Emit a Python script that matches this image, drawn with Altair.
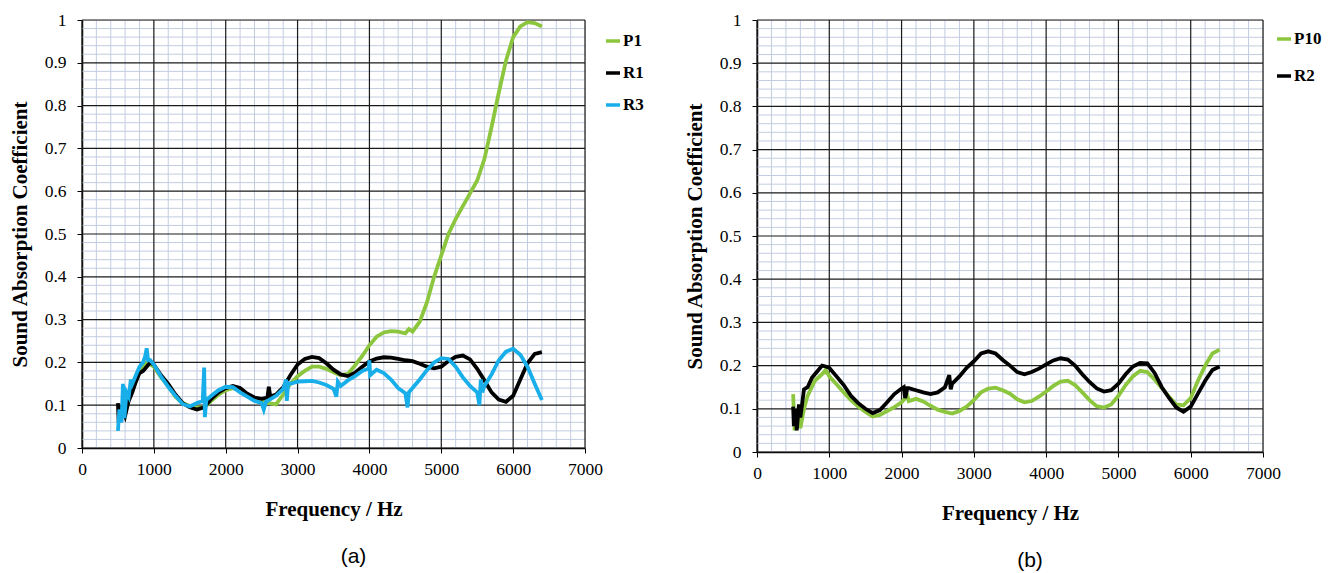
import altair as alt
import pandas as pd

# ---------------- data ----------------
# Panel (a)
P1_f = [500, 600, 700, 800, 900, 1000, 1100, 1200, 1300, 1400, 1500, 1600, 1700, 1800, 1900,
        2000, 2100, 2200, 2300, 2400, 2500, 2600, 2700, 2800, 2900, 3000, 3100, 3200, 3300,
        3400, 3500, 3600, 3700, 3800, 3900, 4000, 4100, 4200, 4300, 4400, 4500, 4550, 4600,
        4700, 4800, 4900, 5000, 5100, 5200, 5300, 5400, 5500, 5600, 5700, 5800, 5900, 6000,
        6100, 6200, 6300, 6400]
P1_v = [0.09, 0.09, 0.14, 0.18, 0.20, 0.19, 0.165, 0.145, 0.12, 0.105, 0.098, 0.095, 0.095,
        0.11, 0.125, 0.135, 0.14, 0.135, 0.125, 0.115, 0.11, 0.105, 0.102, 0.125, 0.15, 0.168,
        0.18, 0.19, 0.19, 0.185, 0.177, 0.17, 0.173, 0.193, 0.215, 0.24, 0.26, 0.27, 0.273,
        0.272, 0.268, 0.278, 0.272, 0.295, 0.34, 0.40, 0.45, 0.50, 0.535, 0.565, 0.595, 0.625,
        0.675, 0.75, 0.83, 0.905, 0.96, 0.985, 0.995, 0.993, 0.985]

R1_f = [500, 510, 550, 600, 650, 700, 750, 800, 850, 900, 950, 1000, 1100, 1200, 1300, 1400,
        1500, 1600, 1700, 1800, 1900, 2000, 2100, 2200, 2300, 2400, 2500, 2580, 2600, 2620,
        2700, 2800, 2900, 3000, 3100, 3200, 3300, 3400, 3500, 3600, 3700, 3800, 3900, 4000,
        4100, 4200, 4300, 4400, 4500, 4600, 4700, 4800, 4900, 5000, 5100, 5200, 5300, 5400,
        5500, 5600, 5700, 5800, 5900, 6000, 6100, 6200, 6300, 6400]
R1_v = [0.105, 0.06, 0.10, 0.075, 0.11, 0.13, 0.155, 0.175, 0.18, 0.19, 0.20, 0.195, 0.17,
        0.15, 0.125, 0.105, 0.095, 0.09, 0.095, 0.115, 0.13, 0.14, 0.145, 0.14, 0.127, 0.118,
        0.115, 0.118, 0.143, 0.12, 0.125, 0.142, 0.17, 0.195, 0.208, 0.213, 0.21, 0.198, 0.183,
        0.172, 0.168, 0.176, 0.19, 0.202, 0.209, 0.212, 0.211, 0.208, 0.205, 0.203, 0.197,
        0.19, 0.186, 0.19, 0.203, 0.213, 0.216, 0.207, 0.185, 0.158, 0.13, 0.113, 0.108, 0.122,
        0.16, 0.198, 0.22, 0.224]

R3_f = [500, 520, 550, 570, 590, 620, 650, 680, 700, 750, 800, 850, 880, 900, 920, 950, 1000,
        1100, 1200, 1300, 1400, 1500, 1600, 1680, 1700, 1710, 1730, 1800, 1900, 2000, 2100,
        2200, 2300, 2400, 2500, 2530, 2560, 2600, 2700, 2800, 2840, 2850, 2870, 2900, 3000,
        3100, 3200, 3300, 3400, 3500, 3540, 3560, 3600, 3700, 3800, 3900, 3990, 4000, 4010,
        4100, 4200, 4300, 4400, 4500, 4530, 4550, 4600, 4700, 4800, 4900, 5000, 5100, 5200,
        5300, 5400, 5500, 5530, 5550, 5570, 5600, 5700, 5800, 5900, 6000, 6100, 6200, 6300,
        6400]
R3_v = [0.04, 0.09, 0.06, 0.15, 0.07, 0.13, 0.12, 0.16, 0.15, 0.17, 0.19, 0.20, 0.215, 0.233,
        0.205, 0.205, 0.195, 0.167, 0.143, 0.122, 0.103, 0.097, 0.105, 0.11, 0.188, 0.072,
        0.112, 0.122, 0.135, 0.143, 0.142, 0.13, 0.12, 0.11, 0.105, 0.09, 0.108, 0.112, 0.122,
        0.138, 0.16, 0.11, 0.152, 0.15, 0.155, 0.156, 0.157, 0.153, 0.147, 0.138, 0.12, 0.155,
        0.145, 0.158, 0.168, 0.18, 0.186, 0.205, 0.17, 0.183, 0.175, 0.16, 0.14, 0.128, 0.095,
        0.13, 0.14, 0.16, 0.182, 0.20, 0.21, 0.208, 0.19, 0.165, 0.145, 0.13, 0.10, 0.16, 0.13,
        0.145, 0.172, 0.205, 0.225, 0.232, 0.218, 0.19, 0.15, 0.112]

# Panel (b)
P10_f = [500, 520, 560, 600, 650, 700, 800, 900, 950, 1000, 1100, 1200, 1300, 1400, 1500, 1600,
         1700, 1800, 1900, 2000, 2080, 2100, 2200, 2300, 2400, 2500, 2600, 2700, 2800, 2900,
         3000, 3100, 3200, 3300, 3400, 3500, 3600, 3700, 3800, 3900, 4000, 4100, 4200, 4300,
         4400, 4500, 4600, 4700, 4800, 4900, 5000, 5100, 5200, 5300, 5400, 5500, 5600, 5700,
         5800, 5900, 6000, 6100, 6200, 6300, 6400]
P10_v = [0.134, 0.05, 0.09, 0.055, 0.10, 0.13, 0.165, 0.18, 0.19, 0.175, 0.157, 0.138, 0.12,
         0.105, 0.093, 0.082, 0.086, 0.095, 0.104, 0.115, 0.13, 0.118, 0.123, 0.117, 0.107,
         0.098, 0.093, 0.089, 0.095, 0.105, 0.12, 0.138, 0.147, 0.149, 0.143, 0.135, 0.122,
         0.115, 0.118, 0.128, 0.14, 0.153, 0.163, 0.165, 0.155, 0.138, 0.12, 0.106, 0.103,
         0.11, 0.13, 0.155, 0.175, 0.188, 0.185, 0.168, 0.148, 0.128, 0.11, 0.108, 0.125,
         0.165, 0.20, 0.228, 0.237]

R2_f = [500, 510, 530, 550, 580, 600, 650, 700, 760, 800, 850, 900, 950, 1000, 1100, 1200,
        1300, 1400, 1500, 1600, 1700, 1800, 1900, 2000, 2030, 2050, 2080, 2100, 2200, 2300,
        2400, 2500, 2600, 2660, 2680, 2700, 2800, 2900, 3000, 3100, 3200, 3300, 3400, 3500,
        3600, 3700, 3800, 3900, 4000, 4100, 4200, 4300, 4400, 4500, 4600, 4700, 4800, 4900,
        5000, 5100, 5200, 5300, 5400, 5500, 5600, 5700, 5800, 5900, 6000, 6100, 6200, 6300,
        6400]
R2_v = [0.105, 0.06, 0.10, 0.05, 0.11, 0.08, 0.145, 0.15, 0.172, 0.18, 0.19, 0.20, 0.198,
        0.195, 0.175, 0.155, 0.13, 0.113, 0.10, 0.09, 0.097, 0.115, 0.134, 0.147, 0.15, 0.125,
        0.148, 0.148, 0.143, 0.138, 0.134, 0.138, 0.15, 0.178, 0.145, 0.158, 0.175, 0.195,
        0.21, 0.228, 0.233, 0.228, 0.213, 0.20, 0.185, 0.18, 0.185, 0.193, 0.203, 0.212, 0.217,
        0.214, 0.20, 0.18, 0.162, 0.147, 0.14, 0.143, 0.158, 0.18, 0.198, 0.206, 0.205, 0.183,
        0.15, 0.125, 0.103, 0.093, 0.105, 0.135, 0.165, 0.19, 0.198]

X_TICKS = [0, 1000, 2000, 3000, 4000, 5000, 6000, 7000]
Y_TICKS = [0, 0.1, 0.2, 0.3, 0.4, 0.5, 0.6, 0.7, 0.8, 0.9, 1.0]
X_MINOR = [f for f in range(200, 7000, 200) if f % 1000 != 0]
Y_MINOR = [round(i * 0.02, 2) for i in range(1, 50) if i % 5 != 0]

GREEN = "#8cc63e"
BLACK = "#000000"
BLUE = "#17aeea"
MINOR = "#c3cce0"
MAJOR = "#1a1a1a"
SERIF = "Liberation Serif"


def long_df(names, freqs, vals):
    rows = []
    for n, f, v in zip(names, freqs, vals):
        for fi, vi in zip(f, v):
            rows.append({"series": n, "freq": fi, "value": vi})
    return pd.DataFrame(rows)


X_AXIS = alt.Axis(values=X_TICKS, format="d", title="Frequency / Hz",
                  grid=False, labelFont=SERIF, labelFontSize=17.5,
                  labelColor="black", tickColor="black", tickSize=5,
                  labelPadding=7, domainColor="black", domainWidth=1.5,
                  titleFont=SERIF, titleFontSize=21, titleFontWeight="bold",
                  titleColor="black", titlePadding=21, labelFlush=False)
Y_AXIS = alt.Axis(values=Y_TICKS, format="~g", title="Sound Absorption Coefficient",
                  grid=False, labelFont=SERIF, labelFontSize=17.5,
                  labelColor="black", tickColor="black", tickSize=5,
                  labelPadding=11, domainColor="black", domainWidth=1.5,
                  titleFont=SERIF, titleFontSize=21, titleFontWeight="bold",
                  titleColor="black", titlePadding=14, labelFlush=False)


def panel(df, names, colors, width, height, label, legend_x, legend_y, row_pad):
    xs = alt.Scale(domain=[0, 7000], nice=False, zero=False)
    ys = alt.Scale(domain=[0, 1], nice=False)

    vminor = alt.Chart(pd.DataFrame({"freq": X_MINOR})).mark_rule(
        color=MINOR, strokeWidth=1).encode(x=alt.X("freq:Q", scale=xs, axis=X_AXIS))
    hminor = alt.Chart(pd.DataFrame({"value": Y_MINOR})).mark_rule(
        color=MINOR, strokeWidth=1).encode(y=alt.Y("value:Q", scale=ys, axis=Y_AXIS))
    vmajor = alt.Chart(pd.DataFrame({"freq": X_TICKS})).mark_rule(
        color=MAJOR, strokeWidth=1.2).encode(x=alt.X("freq:Q", scale=xs, axis=X_AXIS))
    hmajor = alt.Chart(pd.DataFrame({"value": Y_TICKS})).mark_rule(
        color=MAJOR, strokeWidth=1.2).encode(y=alt.Y("value:Q", scale=ys, axis=Y_AXIS))

    lines = alt.Chart(df).mark_line(strokeWidth=3.8).encode(
        x=alt.X("freq:Q", scale=xs, axis=X_AXIS),
        y=alt.Y("value:Q", scale=ys, axis=Y_AXIS),
        color=alt.Color("series:N",
                        scale=alt.Scale(domain=names, range=colors),
                        legend=alt.Legend(orient="none", legendX=legend_x, legendY=legend_y,
                                          title=None, labelFont=SERIF, labelFontSize=17,
                                          labelFontWeight="bold", labelColor="black",
                                          symbolType="stroke", symbolSize=196,
                                          symbolStrokeWidth=3.5, rowPadding=row_pad,
                                          labelOffset=1)),
        order=alt.Order("freq:Q"),
    )

    return alt.layer(vminor, hminor, vmajor, hmajor, lines).properties(
        width=width, height=height,
        title=alt.TitleParams(label, orient="bottom", font="Liberation Sans", fontSize=21,
                              fontWeight="normal", color="black", offset=26,
                              frame="group", anchor="middle", dx=20),
    )


df_a = long_df(["P1", "R1", "R3"], [P1_f, R1_f, R3_f], [P1_v, R1_v, R3_v])
df_b = long_df(["P10", "R2"], [P10_f, R2_f], [P10_v, R2_v])

left = panel(df_a, ["P1", "R1", "R3"], [GREEN, BLACK, BLUE], 503, 428, "(a)", 522, 12, 15)
right = panel(df_b, ["P10", "R2"], [GREEN, BLACK], 506, 432, "(b)", 518, 10, 20)

chart = alt.hconcat(left, right, spacing=38).resolve_scale(
    color="independent", x="independent", y="independent"
).properties(
    padding={"left": 0, "top": 2, "right": 0, "bottom": 0}
).configure_view(
    stroke="black", strokeWidth=1.5
).configure(background="white")

chart.save("out.html", embed_options={"renderer": "svg", "actions": False})
